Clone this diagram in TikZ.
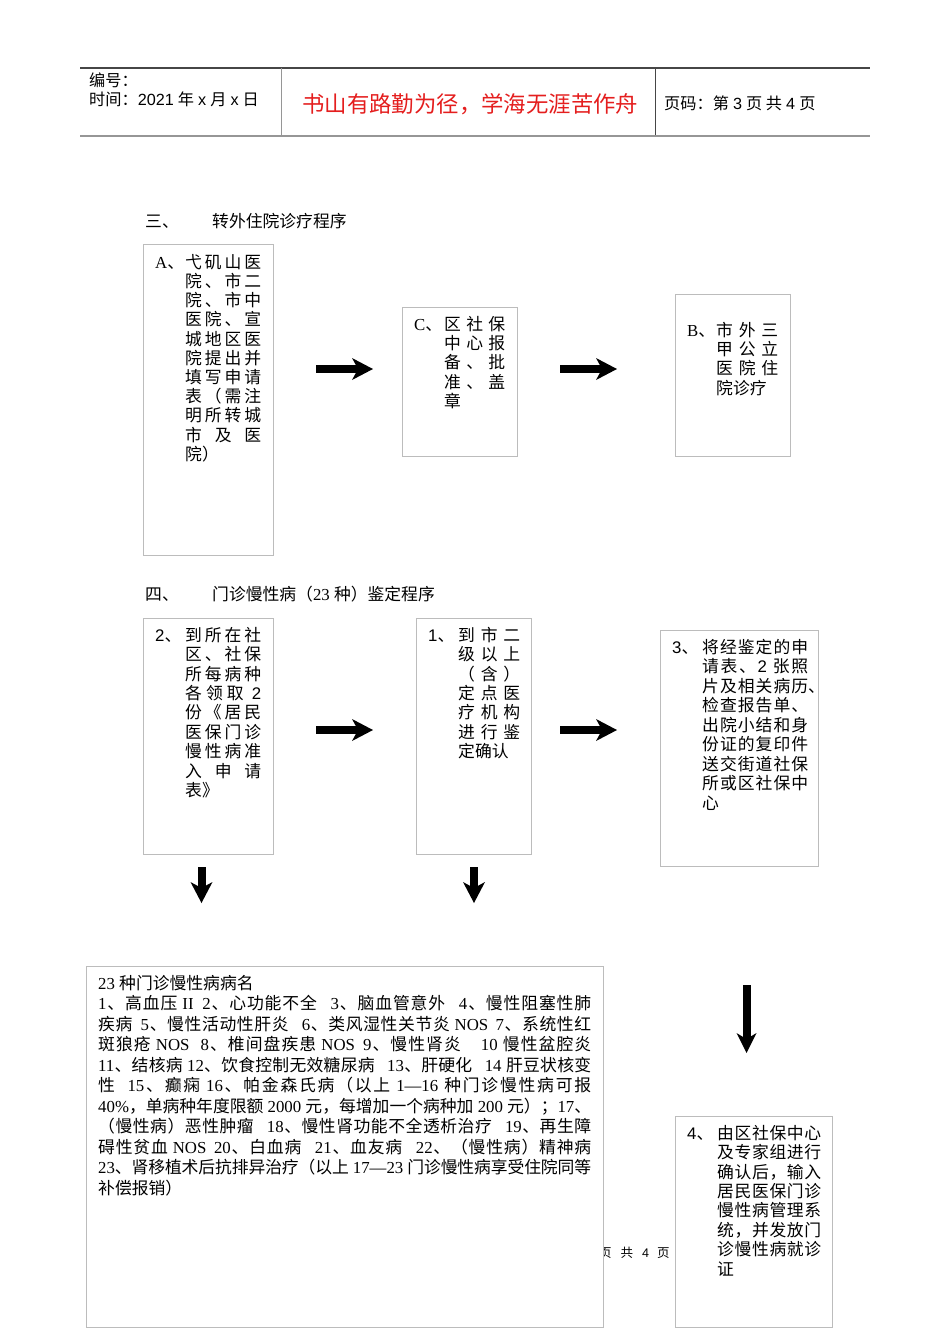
\documentclass[tikz,border=0pt]{standalone}
\usepackage{fontspec}
\setmainfont{Liberation Serif}
\setsansfont{Liberation Sans}
\newfontfamily\cjkfont{Noto Sans CJK SC}
\usetikzlibrary{arrows.meta}
\definecolor{boxgray}{RGB}{188,188,188}
\definecolor{redtxt}{RGB}{228,30,30}
\definecolor{ruledark}{RGB}{70,70,70}
\definecolor{rulegray}{RGB}{150,150,150}

% ---- automatic CJK / Latin font switching ----
\newXeTeXintercharclass\cjkcls
\newXeTeXintercharclass\pctcls
\newXeTeXintercharclass\latcls
\newcount\mycnt
\mycnt="4E00
\loop\ifnum\mycnt<"A000 \XeTeXcharclass\mycnt=\cjkcls \advance\mycnt by 1 \repeat
\mycnt="3000
\loop\ifnum\mycnt<"3040 \XeTeXcharclass\mycnt=\pctcls \advance\mycnt by 1 \repeat
\mycnt="FF00
\loop\ifnum\mycnt<"FFF0 \XeTeXcharclass\mycnt=\pctcls \advance\mycnt by 1 \repeat
\mycnt="21
\loop\ifnum\mycnt<"7F \XeTeXcharclass\mycnt=\latcls \advance\mycnt by 1 \repeat
\XeTeXcharclass"2014=\latcls

\newcommand\latsel{\rmfamily}
\newcommand\serifmode{\let\latsel\rmfamily\rmfamily}
\newcommand\sansmode{\let\latsel\sffamily\sffamily}
\newcommand\cjkglue{\hskip 0pt plus 1pt minus 0.3pt}
\newcommand\autosp{\hskip 0.25em plus 1pt minus 0.5pt}
\XeTeXinterchartoks 4095 \cjkcls = {\cjkfont}
\XeTeXinterchartoks 4095 \pctcls = {\cjkfont}
\XeTeXinterchartoks 4095 \latcls = {\latsel}
\XeTeXinterchartoks \cjkcls \cjkcls = {\cjkglue}
\XeTeXinterchartoks \cjkcls \pctcls = {\cjkglue}
\XeTeXinterchartoks \pctcls \cjkcls = {\cjkglue}
\XeTeXinterchartoks \pctcls \pctcls = {\cjkglue}
\XeTeXinterchartoks \cjkcls \latcls = {\autosp\latsel}
\XeTeXinterchartoks \latcls \cjkcls = {\autosp\cjkfont}
\XeTeXinterchartoks \pctcls \latcls = {\cjkglue\latsel}
\XeTeXinterchartoks \latcls \pctcls = {\cjkglue\cjkfont}

% ---- justified rows ----
\newdimen\rowW
\newcommand\jrow[1]{\hbox to\rowW{#1}}
\newcommand\nrow[1]{\hbox{#1}}
\newcommand\hrow[2]{\hbox{\hbox to\rowW{#1}\rlap{#2}}}
\newcommand\rows[3]{\vtop{\baselineskip=#1pt\lineskiplimit=-30pt\lineskip=0pt\rowW=#2pt #3}}
\newcommand\gp[1]{\hskip #1pt plus 2pt minus 1pt}
\newcommand\bodyfont{\fontsize{16.8pt}{19.4pt}\selectfont}
\newcommand\hdrfont{\fontsize{16.2pt}{19pt}\selectfont\sansmode}

\begin{document}
\begin{tikzpicture}[x=1pt,y=-1pt,
  box/.style={draw=boxgray,line width=0.9pt,fill=white,inner sep=0pt,anchor=north west},
  txt/.style={inner sep=0pt,anchor=base west},
  flow/.style={txt,font=\bodyfont\sansmode},
  flowrm/.style={txt,font=\bodyfont\serifmode},
  fat/.style={line width=8pt,-{Stealth[length=21pt,width=22pt,inset=6pt,line width=0pt]}},
  fatlong/.style={line width=8pt,-{Stealth[length=20pt,width=20pt,inset=6pt,line width=0pt]}},
]
\XeTeXinterchartokenstate=1
\useasboundingbox (0,0) rectangle (950,1344);

% ---------------- header ----------------
\draw[ruledark,line width=1.2pt] (80,68) -- (870,68);
\draw[rulegray,line width=2pt] (80,135.5) -- (870,135.5);
\draw[rulegray,line width=1pt] (281,68) -- (281,135);
\draw[ruledark,line width=1pt] (655,68) -- (655,135);
\node[txt,font=\hdrfont] (hno) at (89,86.2) {编号：};
\node[txt,font=\hdrfont] (htime) at (89,105.2) {时间：2021年x月x日};
\node[txt,font=\fontsize{22.4pt}{26pt}\selectfont\sansmode,text=redtxt] (hmotto) at (302,112.5) {书山有路勤为径，学海无涯苦作舟};
\node[txt,font=\hdrfont] (hpage) at (664,109.2) {页码：第3页 共4页};

% ---------------- section three ----------------
\node[flowrm] (t3a) at (145,227.3) {三、};
\node[flowrm] (t3b) at (212,227.3) {转外住院诊疗程序};

\node[box,minimum width=130pt,minimum height=311pt] (boxA) at (143,244) {};
\node[box,minimum width=115pt,minimum height=149pt] (boxC) at (402,307) {};
\node[box,minimum width=115pt,minimum height=162pt] (boxB) at (675,294) {};

\node[flowrm] (labA) at (155,268.3) {A、};
\node[flow] (txtA) at (185,268.3) {\rows{19.2}{76}{\jrow{弋矶山医}\jrow{院、市二}\jrow{院、市中}\jrow{医院、宣}\jrow{城地区医}\jrow{院提出并}\jrow{填写申请}\jrow{表（需注}\jrow{明所转城}\jrow{市及医}\nrow{院）}}};
\node[flowrm] (labC) at (414,330.3) {C、};
\node[flow] (txtC) at (444,330.3) {\rows{19.3}{61}{\jrow{区社保}\jrow{中心报}\jrow{备、批}\jrow{准、盖}\nrow{章}}};
\node[flowrm] (labB) at (687,336.3) {B、};
\node[flow] (txtB) at (716,336.3) {\rows{19.3}{62}{\jrow{市外三}\jrow{甲公立}\jrow{医院住}\nrow{院诊疗}}};

\coordinate (a1s) at (316,369); \coordinate (a1e) at (373,369);
\coordinate (a2s) at (560,369); \coordinate (a2e) at (617,369);
\draw[fat] (a1s) -- (a1e);
\draw[fat] (a2s) -- (a2e);

% ---------------- section four ----------------
\node[flowrm] (t4a) at (145,600.3) {四、};
\node[flowrm] (t4b) at (212,600.3) {门诊慢性病（23种）鉴定程序};

\node[box,minimum width=130pt,minimum height=236pt] (box2) at (143,618) {};
\node[box,minimum width=115pt,minimum height=236pt] (box1) at (416,618) {};
\node[box,minimum width=158pt,minimum height=236pt] (box3) at (660,630) {};

\node[flow] (lab2) at (155,641.3) {2、};
\node[flow] (txt2) at (185,641.3) {\rows{19.4}{76}{\jrow{到所在社}\jrow{区、社保}\jrow{所每病种}\jrow{各领取2}\jrow{份《居民}\jrow{医保门诊}\jrow{慢性病准}\jrow{入申请}\nrow{表》}}};
\node[flow] (lab1) at (428,641.3) {1、};
\node[flow] (txt1) at (458,641.3) {\rows{19.4}{62}{\jrow{到市二}\jrow{级以上}\jrow{（含）}\jrow{定点医}\jrow{疗机构}\jrow{进行鉴}\nrow{定确认}}};
\node[flow] (lab3) at (672,653.3) {3、};
\node[flow] (txt3) at (702,653.3) {\rows{19.5}{106}{\jrow{将经鉴定的申}\jrow{请表、2张照}\hrow{片及相关病历}{、}\jrow{检查报告单、}\jrow{出院小结和身}\jrow{份证的复印件}\jrow{送交街道社保}\jrow{所或区社保中}\nrow{心}}};

\coordinate (b1s) at (316,730); \coordinate (b1e) at (373,730);
\coordinate (b2s) at (560,730); \coordinate (b2e) at (617,730);
\draw[fat] (b1s) -- (b1e);
\draw[fat] (b2s) -- (b2e);
\coordinate (d1s) at (201.5,867); \coordinate (d1e) at (201.5,903);
\coordinate (d2s) at (474,867); \coordinate (d2e) at (474,903);
\coordinate (d3s) at (746.5,985); \coordinate (d3e) at (746.5,1053);
\draw[fat] (d1s) -- (d1e);
\draw[fat] (d2s) -- (d2e);
\draw[fatlong] (d3s) -- (d3e);

% ---------------- footer fragment (partly under the list box) ----------------
\node[txt,font=\fontsize{12.5pt}{14pt}\selectfont\sansmode] (pfoot) at (599,1257.5) {页\hspace{9pt}共\hspace{9pt}4\hspace{8pt}页};

% ---------------- list of 23 diseases ----------------
\node[box,minimum width=517pt,minimum height=361pt] (listbox) at (86,966) {};
\node[flowrm] (listtxt) at (98,989.3) {\rows{20.5}{493}{%
\nrow{23种门诊慢性病病名}%
\jrow{1、高血压II\gp{7}2、心功能不全\gp{12}3、脑血管意外\gp{12}4、慢性阻塞性肺}%
\jrow{疾病\gp{7}5、慢性活动性肝炎\gp{12}6、类风湿性关节炎NOS\gp{6}7、系统性红}%
\jrow{斑狼疮NOS\gp{9}8、椎间盘疾患NOS\gp{6}9、慢性肾炎\gp{18}10慢性盆腔炎}%
\jrow{11、结核病12、饮食控制无效糖尿病\gp{12}13、肝硬化\gp{12}14肝豆状核变}%
\jrow{性\gp{9}15、癫痫16、帕金森氏病（以上1—16种门诊慢性病可报}%
\jrow{40\%，单病种年度限额2000元，每增加一个病种加200元）；17、}%
\jrow{（慢性病）恶性肿瘤\gp{12}18、慢性肾功能不全透析治疗\gp{12}19、再生障}%
\jrow{碍性贫血NOS\gp{6}20、白血病\gp{12}21、血友病\gp{12}22、（慢性病）精神病}%
\jrow{23、肾移植术后抗排异治疗（以上17—23门诊慢性病享受住院同等}%
\nrow{补偿报销）}}};

% ---------------- step 4 ----------------
\node[box,minimum width=157pt,minimum height=211pt] (box4) at (675,1116) {};
\node[flow] (lab4) at (687,1139.3) {4、};
\node[flow] (txt4) at (717,1139.3) {\rows{19.4}{104}{\jrow{由区社保中心}\jrow{及专家组进行}\jrow{确认后，输入}\jrow{居民医保门诊}\jrow{慢性病管理系}\jrow{统，并发放门}\jrow{诊慢性病就诊}\nrow{证}}};
\end{tikzpicture}
\end{document}
